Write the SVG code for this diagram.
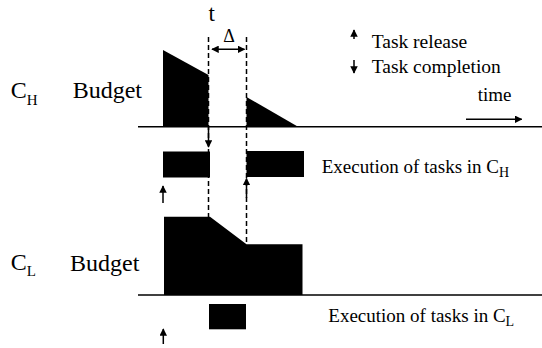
<svg xmlns="http://www.w3.org/2000/svg" width="542" height="348" viewBox="0 0 542 348">
<style>
text{font-family:"Liberation Serif","Times New Roman",serif;fill:#000}
.big{font-size:24px}
.sub{font-size:15px}
.lbl{font-size:19.5px}
.axis{stroke:#000;stroke-width:1.5;fill:none}
.dash{stroke:#000;stroke-width:1.5;stroke-dasharray:5,3;fill:none}
.ln{stroke:#000;stroke-width:1.5;fill:none}
.blk{fill:#000;stroke:none}
</style>
<defs>
<marker id="ah" viewBox="0 0 10 10" refX="9" refY="5" markerWidth="5" markerHeight="5" orient="auto-start-reverse" markerUnits="strokeWidth">
<path d="M0,0 L10,5 L0,10 z" fill="#000"/>
</marker>
</defs>
<rect width="542" height="348" fill="#fff"/>
<g id="labels">
<text x="211.7" y="21" font-size="23" text-anchor="middle">t</text>
<text x="229" y="42" font-size="18" text-anchor="middle">Δ</text>
<text x="10.7" y="98.3" class="big">C<tspan class="sub" dy="6.5">H</tspan></text>
<text x="72.7" y="97.5" class="big">Budget</text>
<text x="10.7" y="269.5" class="big">C<tspan class="sub" dy="6.5">L</tspan></text>
<text x="70" y="270.5" class="big">Budget</text>
</g>
<g id="legend">
<line class="ln" x1="354" y1="39" x2="354" y2="30" marker-end="url(#ah)"/>
<text x="371.7" y="48.3" class="lbl">Task release</text>
<line class="ln" x1="354" y1="60" x2="354" y2="73" marker-end="url(#ah)"/>
<text x="371.7" y="73.3" class="lbl">Task completion</text>
<text x="477.7" y="100.7" font-size="19">time</text>
<line class="ln" x1="466" y1="119.3" x2="521.7" y2="119.3" marker-end="url(#ah)"/>
</g>
<g id="ch-budget">
<polygon class="blk" points="163,50 208.5,75 208.5,127 163,127"/>
<polygon class="blk" points="246.5,97 298.5,127 246.5,127"/>
</g>
<g id="ch-exec">
<rect class="blk" x="163" y="151.5" width="47" height="26"/>
<rect class="blk" x="246.5" y="151" width="57.5" height="26"/>
<text x="321.7" y="173.3" font-size="19">Execution of tasks in C<tspan font-size="14" dy="4">H</tspan></text>
</g>
<g id="cl-budget">
<polygon class="blk" points="164,216.7 210,216.7 246.5,244.3 302.5,244.3 302.5,295 164,295"/>
</g>
<g id="cl-exec">
<rect class="blk" x="209" y="304" width="37" height="25.3"/>
<text x="328.3" y="321.7" font-size="19">Execution of tasks in C<tspan font-size="14" dy="4">L</tspan></text>
</g>
<g id="connectors">
<line class="axis" x1="138" y1="126.8" x2="542" y2="126.8"/>
<line class="axis" x1="138" y1="295" x2="542" y2="295"/>
<line class="dash" x1="208.5" y1="37" x2="208.5" y2="217"/>
<line class="dash" x1="246.5" y1="37" x2="246.5" y2="244"/>
<line class="ln" x1="212" y1="49.3" x2="244.5" y2="49.3" marker-start="url(#ah)" marker-end="url(#ah)"/>
<line class="ln" x1="208.5" y1="127" x2="208.5" y2="147" marker-end="url(#ah)"/>
<line class="ln" x1="246.5" y1="198" x2="246.5" y2="178.5" marker-end="url(#ah)"/>
<line class="ln" x1="163" y1="203" x2="163" y2="186" marker-end="url(#ah)"/>
<line class="ln" x1="163.3" y1="344" x2="163.3" y2="329" marker-end="url(#ah)"/>
</g>
</svg>
